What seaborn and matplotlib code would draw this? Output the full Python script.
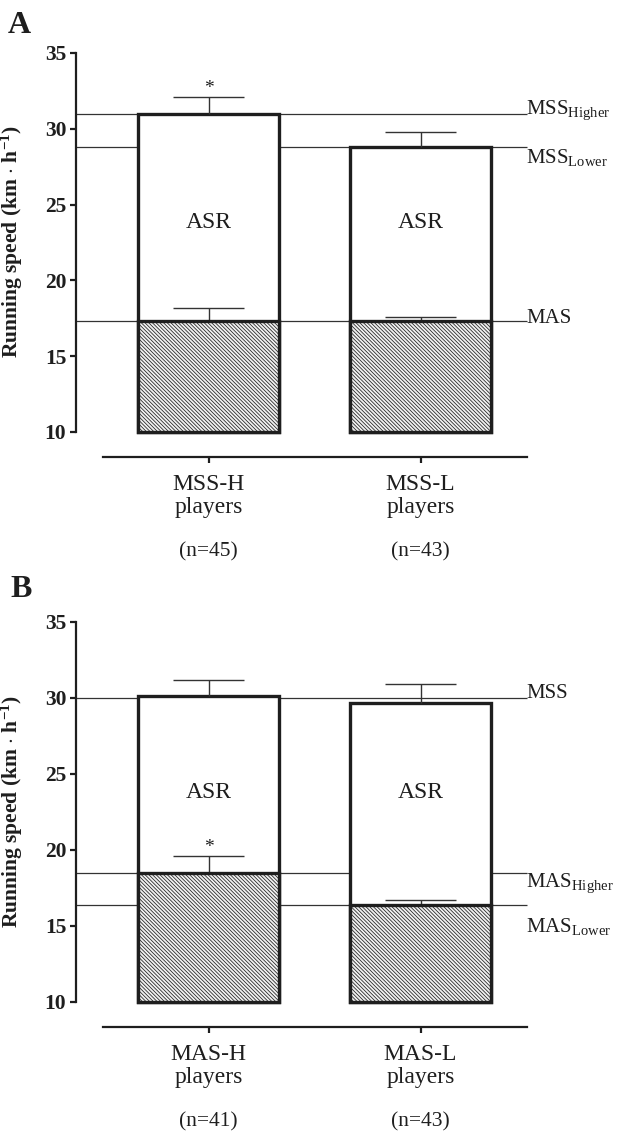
import matplotlib
matplotlib.use("Agg")
import matplotlib.pyplot as plt
import pandas as pd
import seaborn as sns

# Panel A: players split by MSS
groups_a = ["MSS-H\nplayers", "MSS-L\nplayers"]
n_a = ["(n=45)", "(n=43)"]
mss_a = [31.0, 28.8]
mss_err_a = [1.1, 1.0]
mas_a = [17.3, 17.3]
mas_err_a = [0.9, 0.3]
star_mss_a = [True, False]
star_mas_a = [False, False]
ref_a = [31.0, 28.8, 17.3]
ref_names_a = [r"MSS$_{\mathrm{Higher}}$", r"MSS$_{\mathrm{Lower}}$", "MAS"]

# Panel B: players split by MAS
groups_b = ["MAS-H\nplayers", "MAS-L\nplayers"]
n_b = ["(n=41)", "(n=43)"]
mss_b = [30.1, 29.7]
mss_err_b = [1.1, 1.2]
mas_b = [18.5, 16.4]
mas_err_b = [1.1, 0.3]
star_mss_b = [False, False]
star_mas_b = [True, False]
ref_b = [30.0, 18.5, 16.4]
ref_names_b = ["MSS", r"MAS$_{\mathrm{Higher}}$", r"MAS$_{\mathrm{Lower}}$"]

BASE = 10

sns.set_style("ticks")
plt.rcParams["font.family"] = ["Liberation Serif", "DejaVu Serif"]
plt.rcParams["mathtext.fontset"] = "custom"
plt.rcParams["mathtext.rm"] = "Liberation Serif"
plt.rcParams["mathtext.it"] = "Liberation Serif:italic"
plt.rcParams["mathtext.bf"] = "Liberation Serif:bold"
plt.rcParams["hatch.linewidth"] = 0.55

INK = "#1e1e1e"
W = 0.665


def fix_bottoms(patches):
    for p in patches:
        h = p.get_height()
        p.set_y(BASE)
        p.set_height(h - BASE)


def errbars(ax, vals, errs, stars):
    for i, (v, e) in enumerate(zip(vals, errs)):
        ax.vlines(i, v, v + e, color="#333333", lw=1.0, zorder=2.5)
        ax.hlines(v + e, i - W / 4, i + W / 4, color="#333333", lw=1.0, zorder=2.5)
        if stars[i]:
            ax.annotate("*", (i, v + e), xytext=(0, 0), textcoords="offset points",
                        ha="center", va="bottom", fontsize=14, color=INK)


def panel(ax, groups, n, mss, mss_err, mas, mas_err, star_mss, star_mas,
          refs, ref_names, label_dy, letter, letter_xy):
    df = pd.DataFrame({"group": groups, "mss": mss, "mas": mas})

    # reference lines sit behind the bars
    for r, name, dy in zip(refs, ref_names, label_dy):
        ax.hlines(r, -0.625, 1.5, color="#333333", lw=0.9, zorder=1, clip_on=False)
        ax.annotate(name, (1.5, r), xytext=(0, dy), textcoords="offset points",
                    ha="left", va="baseline", fontsize=15, color=INK,
                    annotation_clip=False)

    sns.barplot(data=df, x="group", y="mss", color="white", width=W,
                edgecolor=INK, linewidth=2.4, errorbar=None, zorder=2, ax=ax)
    fix_bottoms(ax.patches[:2])
    sns.barplot(data=df, x="group", y="mas", color="#f0f0f0", saturation=1, width=W,
                edgecolor=INK, linewidth=2.4, errorbar=None, hatch="\\" * 9,
                zorder=3, ax=ax)
    fix_bottoms(ax.patches[2:])

    errbars(ax, mss, mss_err, star_mss)
    errbars(ax, mas, mas_err, star_mas)

    for i in range(len(groups)):
        ax.text(i, 23.8, "ASR", ha="center", va="center", fontsize=17, color=INK, zorder=5)
        ax.annotate(n[i], (i, 0), xycoords=("data", "axes fraction"),
                    xytext=(0, -68), textcoords="offset points",
                    ha="center", va="center", fontsize=15.5, color=INK)

    ax.set_xlim(-0.625, 1.5)
    ax.set_ylim(8.35, 35)
    ax.set_yticks([10, 15, 20, 25, 30, 35])
    sns.despine(ax=ax)
    ax.spines["left"].set_bounds(10, 35)
    ax.spines["bottom"].set_bounds(-0.5, 1.5)
    for s in ("left", "bottom"):
        ax.spines[s].set_linewidth(1.6)
        ax.spines[s].set_color(INK)
    ax.tick_params(axis="y", length=4, width=1.6, pad=3, colors=INK, labelsize=15.5)
    ax.tick_params(axis="x", length=4, width=1.6, pad=8, colors=INK, labelsize=17)
    for t in ax.get_yticklabels():
        t.set_fontweight("bold")
    for t in ax.get_xticklabels():
        t.set_linespacing(1.15)
    ax.set_xlabel("")
    ax.set_ylabel(r"Running speed (km $\cdot$ h$^{\mathbf{-1}}$)", fontsize=15.5,
                  fontweight="bold", color=INK)
    ax.yaxis.set_label_coords(-0.113, 0.532)
    ax.figure.text(letter_xy[0], letter_xy[1], letter, fontsize=23,
                   fontweight="bold", color=INK, va="baseline")


fig = plt.figure(figsize=(6.25, 11.35), dpi=100)
ax_a = fig.add_axes([0.1216, 0.5974, 0.7208, 0.356])
ax_b = fig.add_axes([0.1216, 0.0952, 0.7208, 0.3568])

panel(ax_a, groups_a, n_a, mss_a, mss_err_a, mas_a, mas_err_a, star_mss_a, star_mas_a,
      ref_a, ref_names_a, [0, -11.5, -1.5], "A", (8 / 625, 1 - 33 / 1135))
panel(ax_b, groups_b, n_b, mss_b, mss_err_b, mas_b, mas_err_b, star_mss_b, star_mas_b,
      ref_b, ref_names_b, [0, -10, -20], "B", (10 / 625, 1 - 597 / 1135))

fig.savefig("out.png", dpi=100, facecolor="white")
